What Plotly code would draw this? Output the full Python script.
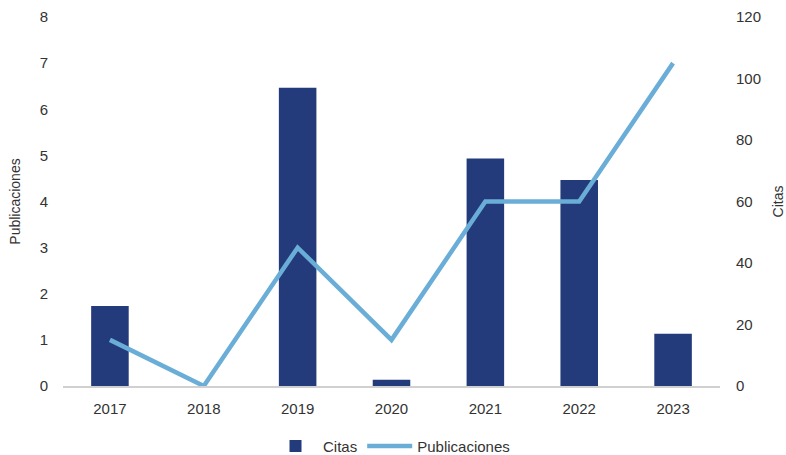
import plotly.graph_objects as go

years = ["2017", "2018", "2019", "2020", "2021", "2022", "2023"]
citas = [26, 0, 97, 2, 74, 67, 17]
publicaciones = [1, 0, 3, 1, 4, 4, 7]

font_family = "Liberation Sans, Arial, sans-serif"

fig = go.Figure()
# Bars on the (right-side) primary axis so the line overlays them
fig.add_trace(go.Bar(
    x=years, y=citas, name="Citas", yaxis="y",
    marker=dict(color="#233A7B", line=dict(width=0)),
    width=0.4,
))
fig.add_trace(go.Scatter(
    x=years, y=publicaciones, name="Publicaciones", mode="lines", yaxis="y2",
    line=dict(color="#6AAED8", width=4.5),
))

fig.update_layout(
    width=786, height=455,
    margin=dict(l=63, r=66, t=17, b=69, autoexpand=False),
    paper_bgcolor="white", plot_bgcolor="white",
    font=dict(family=font_family, size=15, color="#333"),
    showlegend=True,
    legend=dict(orientation="h", x=0.5, xanchor="center", y=-0.163, yanchor="middle",
                font=dict(size=15), traceorder="normal", itemwidth=45),
    xaxis=dict(showgrid=False, showline=True, linecolor="#d0d0d0", linewidth=1.5,
               ticks="", tickfont=dict(size=15), ticklabelstandoff=8),
    yaxis=dict(range=[0, 120], dtick=20, side="right",
               showgrid=False, zeroline=False,
               title=dict(text="Citas", font=dict(size=14), standoff=20),
               tickfont=dict(size=15), ticklabelstandoff=15),
    yaxis2=dict(range=[0, 8], dtick=1, overlaying="y", side="left",
                showgrid=False, zeroline=False,
                title=dict(text="Publicaciones", font=dict(size=14), standoff=15),
                tickfont=dict(size=15), ticklabelstandoff=14),
)

fig.write_html("out.html")
